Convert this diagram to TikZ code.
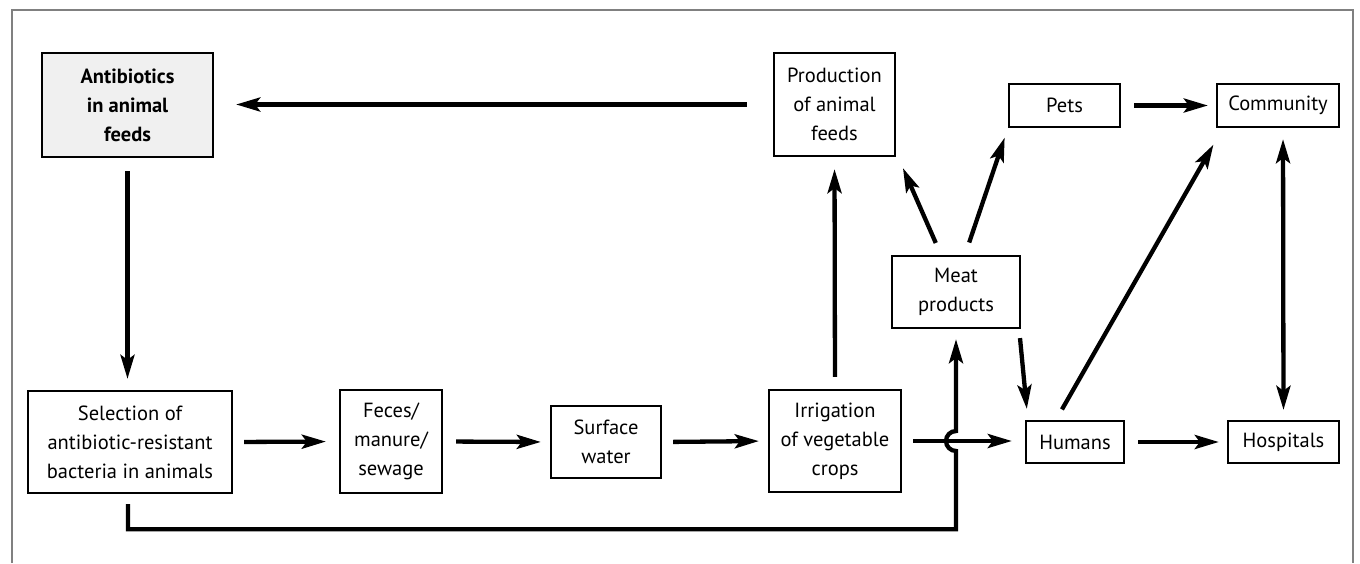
\documentclass[tikz,border=0pt]{standalone}
\usepackage{fontspec}
\setmainfont{PT Sans}
\usetikzlibrary{arrows.meta}

\definecolor{framecolor}{rgb}{0.500000, 0.500000, 0.500000}
\definecolor{feedfill}{rgb}{0.940000, 0.940000, 0.940000}

\tikzset{
  >={Stealth[length=24pt,width=14pt,inset=5pt]},
  boxnode/.style={draw, line width=2.3pt, align=center, inner sep=0pt,
    font=\fontsize{20.5}{29}\selectfont},
  flowline/.style={->, line width=4.3pt, shorten <=12pt, shorten >=10pt},
}

\begin{document}
\begin{tikzpicture}[x=1pt,y=-1pt]
\useasboundingbox (0,0) rectangle (1360,563);
% frame
\draw[framecolor, line width=1.3pt] (12,563) -- (12,10) -- (1353,10) -- (1353,563);

% top row
\node[boxnode, fill=feedfill, font=\fontsize{20.5}{29}\selectfont\bfseries,
  minimum width=171pt, minimum height=104pt] (feeds) at (127.5,105) {Antibiotics\\in animal\\feeds};
\node[boxnode, minimum width=121pt, minimum height=103pt] (prodfeeds) at (834.5,104.5) {Production\\of animal\\feeds};
\node[boxnode, minimum width=111pt, minimum height=43pt] (pets) at (1064.5,105.5) {Pets};
\node[boxnode, minimum width=122pt, minimum height=43pt] (community) at (1278,105.5) {Community};
\node[boxnode, minimum width=128pt, minimum height=72pt] (meat) at (956,292) {Meat\\products};

% bottom row
\node[boxnode, minimum width=204pt, minimum height=102pt] (selection) at (130,442) {Selection of\\antibiotic-resistant\\bacteria in animals};
\node[boxnode, minimum width=102pt, minimum height=103pt] (feces) at (391,441.5) {Feces/\\manure/\\sewage};
\node[boxnode, minimum width=110pt, minimum height=72pt] (surface) at (606,442) {Surface\\water};
\node[boxnode, minimum width=132pt, minimum height=102pt] (irrigation) at (835,441) {Irrigation\\of vegetable\\crops};
\node[boxnode, minimum width=98pt, minimum height=42pt] (humans) at (1075,442) {Humans};
\node[boxnode, minimum width=111pt, minimum height=42pt] (hospitals) at (1283.5,442) {Hospitals};

% arrows
\draw[flowline, shorten <=26pt, shorten >=22pt] (prodfeeds.west) -- (prodfeeds.west -| feeds.east);
\draw[flowline, shorten <=13pt, shorten >=8pt] (pets.east) -- (community.west);
\draw[flowline, shorten <=13pt, shorten >=11pt] (feeds.south) -- (feeds.south |- selection.north);
\draw[flowline, shorten <=11pt, shorten >=13pt] (selection.east) -- (feces.west);
\draw[flowline, shorten <=13pt, shorten >=9pt] (feces.east) -- (surface.west);
\draw[flowline, shorten <=11pt, shorten >=9pt] (surface.east) -- (irrigation.west);
\draw[flowline, shorten <=11pt, shorten >=13pt] (irrigation.east) -- (irrigation.east -| humans.west);
\draw[flowline, shorten <=13pt, shorten >=8pt] (humans.east) -- (hospitals.west);
\draw[flowline, shorten >=12pt] (irrigation.north) -- (prodfeeds.south);
\draw[flowline, shorten <=13pt, shorten >=12pt] ([xshift=-15pt]meat.north) -- ([xshift=2pt]prodfeeds.south east);
\draw[flowline, shorten <=13pt, shorten >=10pt] ([xshift=9pt]meat.north) -- (pets.south west);
\draw[flowline, shorten <=9pt, shorten >=11pt] ([xshift=-2pt]meat.south east) -- ([xshift=3pt]humans.north west);
\draw[flowline, shorten <=12pt, shorten >=19pt] ([xshift=-19pt]humans.north) -- ([xshift=7pt]community.south west);
\draw[flowline, <->, shorten <=11pt, shorten >=10pt] ([xshift=5pt]community.south) -- (hospitals.north);

% loop under the row, jumping the crossing
\coordinate (jump) at (meat.south |- irrigation.east);
\draw[flowline, shorten <=10pt, shorten >=10pt] ([xshift=-2pt]selection.south) -- ++(0,35)
  -| ([yshift=-10pt]jump) arc[start angle=-90, end angle=-270, radius=10pt] -- (meat.south);
\end{tikzpicture}
\end{document}
